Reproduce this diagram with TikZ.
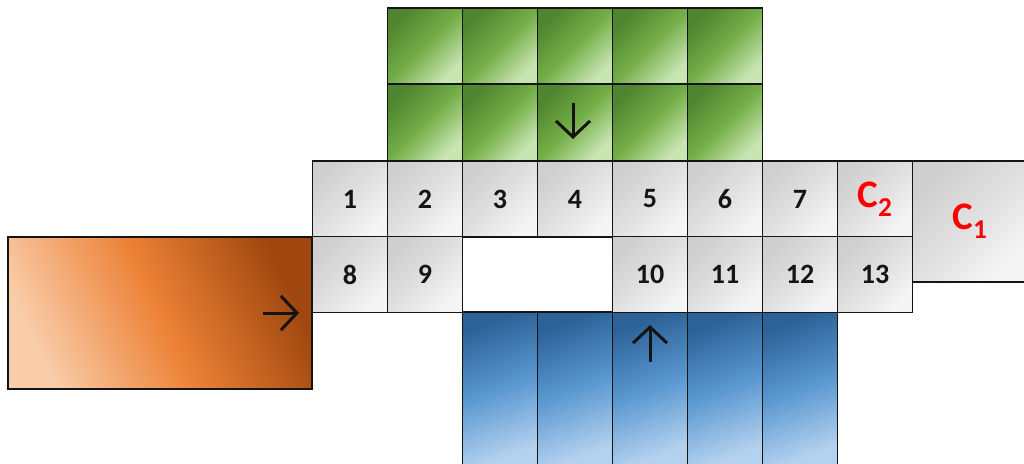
\documentclass[tikz,border=0pt]{standalone}
\usepackage{fontspec}
\setsansfont{Carlito}
\usetikzlibrary{arrows.meta}
\definecolor{DeckInk}{HTML}{141414}
\definecolor{DeckRed}{HTML}{FF0000}
\definecolor{DeckGreyDark}{HTML}{CFCFCF}
\definecolor{DeckGreyMid}{HTML}{E0E0E0}
\definecolor{DeckGreyLight}{HTML}{F5F5F5}
\definecolor{DeckGreenDark}{HTML}{4F8530}
\definecolor{DeckGreenMid}{HTML}{74AE47}
\definecolor{DeckGreenLight}{HTML}{C8E5B2}
\definecolor{DeckBlueDark}{HTML}{2C6298}
\definecolor{DeckBlueMid}{HTML}{5A98D0}
\definecolor{DeckBlueLight}{HTML}{B4D2EF}
\definecolor{DeckOrangeDark}{HTML}{A0470F}
\definecolor{DeckOrangeMid}{HTML}{EC8236}
\definecolor{DeckOrangeLight}{HTML}{F9CDAA}
\tikzset{
  deck frame/.style={draw=DeckInk, line width=1.8pt, inner sep=0pt, outer sep=0pt},
  deck cell/.style={deck frame, minimum width=75pt, minimum height=76pt,
    top color=DeckGreyDark, bottom color=DeckGreyLight, middle color=DeckGreyMid, shading angle=45,
    font=\sffamily\bfseries\fontsize{28}{32}\selectfont, text=DeckInk},
  deck tag/.style={font=\sffamily\bfseries\fontsize{39}{43}\selectfont, text=DeckRed},
  upper cell/.style={deck frame, minimum width=75pt, minimum height=76pt,
    top color=DeckGreenDark, bottom color=DeckGreenLight, middle color=DeckGreenMid, shading angle=45},
  lower cell/.style={deck frame, minimum width=75pt, minimum height=154pt,
    top color=DeckBlueDark, bottom color=DeckBlueLight, middle color=DeckBlueMid, shading angle=20},
  inlet block/.style={deck frame, minimum width=304pt, minimum height=152pt,
    top color=DeckOrangeDark, bottom color=DeckOrangeLight, middle color=DeckOrangeMid, shading angle=-65},
  corner block/.style={deck cell, minimum width=116pt, minimum height=121pt},
  deck flow/.style={draw=DeckInk, line width=3pt, -{Straight Barb[length=16pt,width=34pt]}},
}

\begin{document}
\begin{tikzpicture}[x=1pt,y=-1pt]
  \useasboundingbox (0,0) rectangle (1024,463);

  % inlet on the left
  \node[inlet block] (inlet) at (160,313) {};

  % wide block on the right
  \node[corner block, deck tag] (c1) at (970,221.5) {C\textsubscript{1}};

  % upper green rows
  \node[upper cell] (g11) at (425,46) {};
  \node[upper cell] (g12) at (500,46) {};
  \node[upper cell] (g13) at (575,46) {};
  \node[upper cell] (g14) at (650,46) {};
  \node[upper cell] (g15) at (725,46) {};
  \node[upper cell] (g21) at (425,122.5) {};
  \node[upper cell] (g22) at (500,122.5) {};
  \node[upper cell] (g23) at (575,122.5) {};
  \node[upper cell] (g24) at (650,122.5) {};
  \node[upper cell] (g25) at (725,122.5) {};

  % lower blue columns
  \node[lower cell] (b1) at (500,389) {};
  \node[lower cell] (b2) at (575,389) {};
  \node[lower cell] (b3) at (650,389) {};
  \node[lower cell] (b4) at (725,389) {};
  \node[lower cell] (b5) at (800,389) {};

  % numbered deck, first row
  \node[deck cell] (n1) at (350,199) {1};
  \node[deck cell] (n2) at (425,199) {2};
  \node[deck cell] (n3) at (500,199) {3};
  \node[deck cell] (n4) at (575,199) {4};
  \node[deck cell] (n5) at (650,199) {5};
  \node[deck cell] (n6) at (725,199) {6};
  \node[deck cell] (n7) at (800,199) {7};
  \node[deck cell, deck tag] (c2) at (875,199) {C\textsubscript{2}};

  % numbered deck, second row
  \node[deck cell] (n8) at (350,274.5) {8};
  \node[deck cell] (n9) at (425,274.5) {9};
  \node[deck cell] (n10) at (650,274.5) {10};
  \node[deck cell] (n11) at (725,274.5) {11};
  \node[deck cell] (n12) at (800,274.5) {12};
  \node[deck cell] (n13) at (875,274.5) {13};

  % flow marks
  \coordinate (down from) at (573,103);
  \coordinate (down to) at (573,139);
  \coordinate (up from) at (650,362);
  \coordinate (up to) at (650,325);
  \coordinate (right from) at (263,313);
  \coordinate (right to) at (299,313);
  \draw[deck flow] (down from) -- (down to);
  \draw[deck flow] (up from) -- (up to);
  \draw[deck flow] (right from) -- (right to);
\end{tikzpicture}
\end{document}
